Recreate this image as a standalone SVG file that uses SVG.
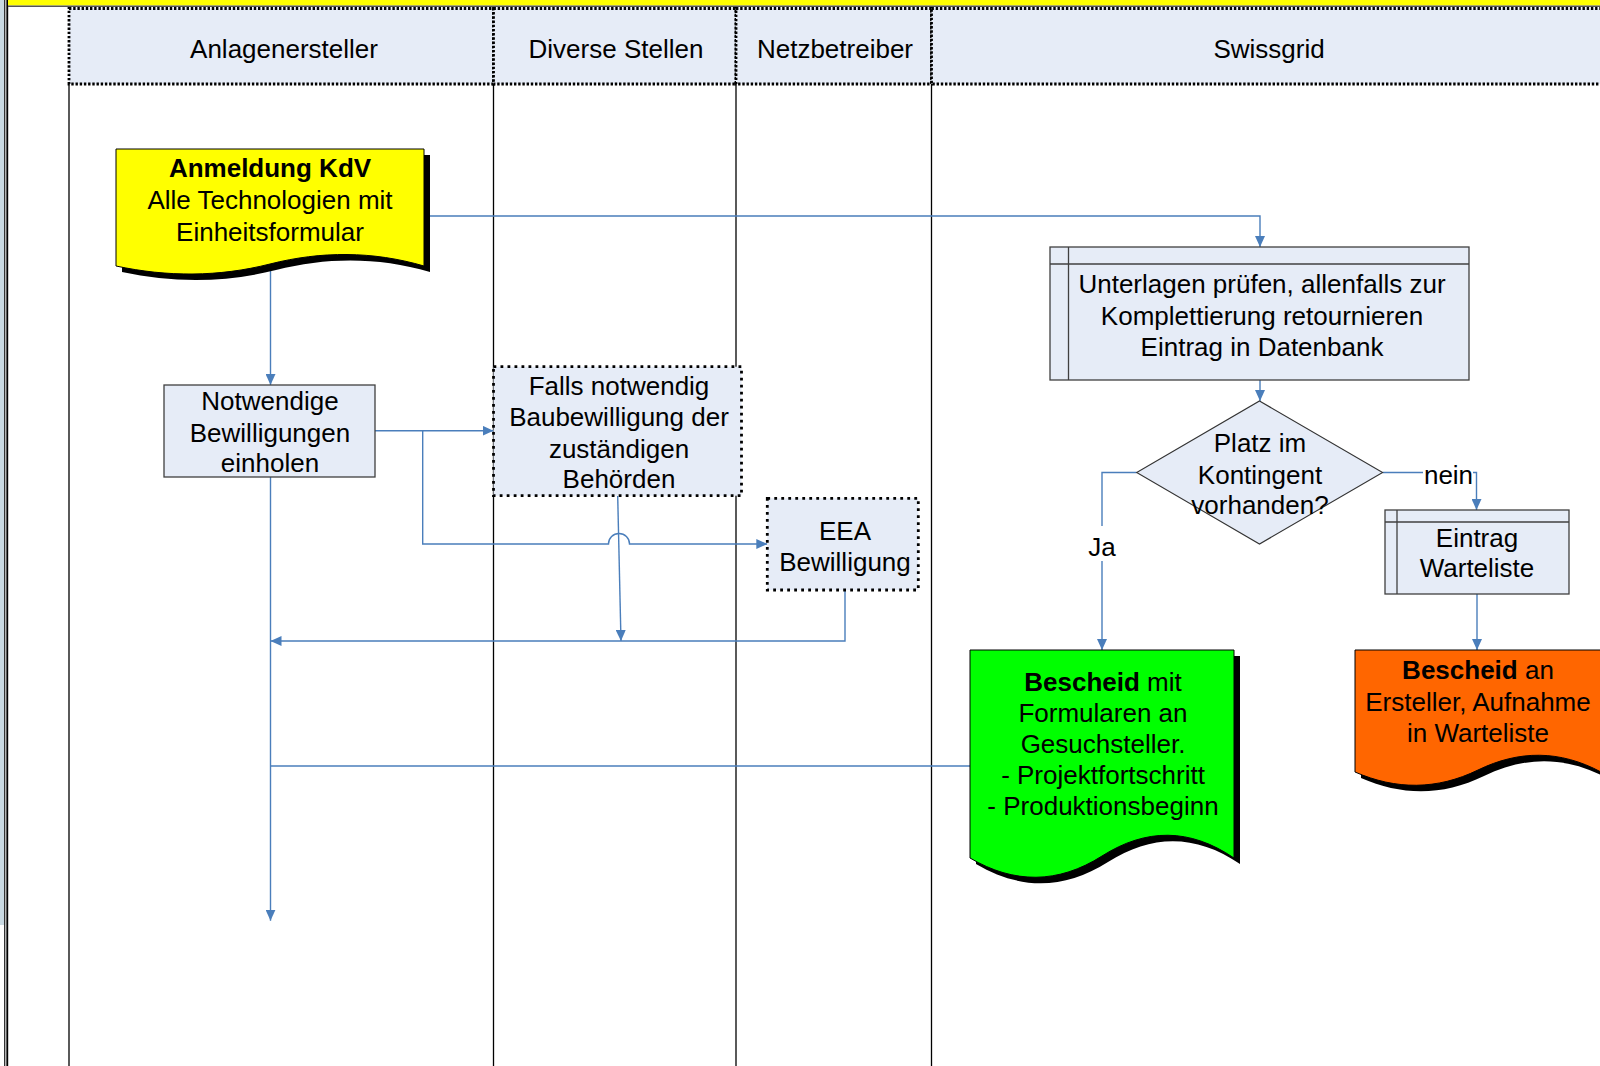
<svg xmlns="http://www.w3.org/2000/svg" width="1600" height="1066" viewBox="0 0 1600 1066">
<defs>
<style>
text{font-family:"Liberation Sans",Arial,sans-serif;font-size:26px;fill:#000;text-anchor:middle}
.b{font-weight:bold}
.hdr{fill:#e6ecf7;stroke:#000;stroke-width:2.8;stroke-dasharray:2.4 1.8}
.lane{stroke:#000;stroke-width:1.3;fill:none}
.box{fill:#e6ecf7;stroke:#404040;stroke-width:1.3}
.dot{fill:#e6ecf7;stroke:#000;stroke-width:2.8;stroke-dasharray:2.8 4.2}
.ln{stroke:#404040;stroke-width:1.3;fill:none}
.c{fill:none;stroke:#4a7ebb;stroke-width:1.4}
.ca{fill:none;stroke:#4a7ebb;stroke-width:1.4;marker-end:url(#arr)}
.doc{stroke:#000;stroke-width:1}
</style>
<marker id="arr" markerUnits="userSpaceOnUse" markerWidth="12" markerHeight="10" refX="11" refY="5" orient="auto">
<path d="M0,0 L11,5 L0,10 Z" fill="#4a7ebb"/>
</marker>
</defs>
<rect width="1600" height="1066" fill="#fff"/>
<g id="frame">
<rect x="0" y="0" width="4" height="925" fill="#c9d9e2"/>
<rect x="4" y="0" width="1.4" height="1066" fill="#333"/>
<rect x="5.4" y="0" width="1" height="1066" fill="#bbb"/>
<rect x="6.4" y="0" width="1.8" height="1066" fill="#000"/>
<rect x="8" y="0" width="1592" height="5.5" fill="#ffff00"/>
<rect x="8" y="5.5" width="1592" height="1.5" fill="#555"/>
</g>
<g id="lanes">
<line class="lane" x1="69" y1="84" x2="69" y2="1066"/>
<line class="lane" x1="493.5" y1="84" x2="493.5" y2="1066"/>
<line class="lane" x1="736" y1="84" x2="736" y2="1066"/>
<line class="lane" x1="931.5" y1="84" x2="931.5" y2="1066"/>
<g id="lane-anlagenersteller"><rect class="hdr" x="69" y="8.5" width="424.5" height="75.5"/><text x="284" y="58">Anlagenersteller</text></g>
<g id="lane-diverse"><rect class="hdr" x="493.5" y="8.5" width="242.5" height="75.5"/><text x="616" y="58">Diverse Stellen</text></g>
<g id="lane-netz"><rect class="hdr" x="736" y="8.5" width="195.5" height="75.5"/><text x="835" y="58">Netzbetreiber</text></g>
<g id="lane-swissgrid"><rect class="hdr" x="931.5" y="8.5" width="680" height="75.5"/><text x="1269" y="58">Swissgrid</text></g>
</g>
<g id="connectors">
<path class="ca" d="M424,216 H1260 V247"/>
<path class="ca" d="M270.5,267 V385"/>
<path class="ca" d="M375,430.7 H493.5"/>
<path class="ca" d="M422.7,430.7 V544 H608.5 A10.5,10.5 0 0 1 629.5,544 H767.3"/>
<path class="ca" d="M617.7,496 L621,641"/>
<path class="ca" d="M845,590 V641 H270.5"/>
<path class="ca" d="M270.5,477 V920.7"/>
<path class="c" d="M970,766 H270.5"/>
<path class="ca" d="M1260,380 V401"/>
<path class="ca" d="M1136.7,472.5 H1102 V650"/>
<path class="ca" d="M1382.6,472.5 H1476.5 V510"/>
<path class="ca" d="M1477,594 V650"/>
<rect x="1086" y="526" width="32" height="35" fill="#fff"/>
<text x="1102" y="556">Ja</text>
<rect x="1423" y="460" width="50" height="28" fill="#fff"/>
<text x="1448.5" y="483.5">nein</text>
</g>
<g id="anmeldung">
<path transform="translate(6,6)" fill="#000" d="M116,149 H424 V266 C372.67,251 321.33,251 270,264 C218.67,277 167.33,277 116,266 Z"/>
<path class="doc" fill="#ffff00" d="M116,149 H424 V266 C372.67,251 321.33,251 270,264 C218.67,277 167.33,277 116,266 Z"/>
<text x="270" y="177" class="b">Anmeldung KdV</text>
<text x="270" y="209">Alle Technologien mit</text>
<text x="270" y="241">Einheitsformular</text>
</g>
<g id="notwendige">
<rect class="box" x="164" y="385" width="211" height="92"/>
<text x="270" y="410">Notwendige</text>
<text x="270" y="441.5">Bewilligungen</text>
<text x="270" y="472">einholen</text>
</g>
<g id="falls">
<rect class="dot" x="493.5" y="366.7" width="248" height="129"/>
<text x="619" y="395">Falls notwendig</text>
<text x="619" y="426">Baubewilligung der</text>
<text x="619" y="458">zuständigen</text>
<text x="619" y="488">Behörden</text>
</g>
<g id="eea">
<rect class="dot" x="767.3" y="498.3" width="151" height="91.7"/>
<text x="845" y="540">EEA</text>
<text x="845" y="571">Bewilligung</text>
</g>
<g id="unterlagen">
<rect class="box" x="1050" y="247" width="419" height="133"/>
<line class="ln" x1="1050" y1="264" x2="1469" y2="264"/>
<line class="ln" x1="1068.5" y1="247" x2="1068.5" y2="380"/>
<text x="1262" y="293">Unterlagen prüfen, allenfalls zur</text>
<text x="1262" y="324.5">Komplettierung retournieren</text>
<text x="1262" y="356">Eintrag in Datenbank</text>
</g>
<g id="platz">
<path fill="#e6ecf7" stroke="#333" stroke-width="1.1" d="M1259.5,401 L1382.6,472.5 L1259.5,544 L1136.7,472.5 Z"/>
<text x="1260" y="452">Platz im</text>
<text x="1260" y="483.5">Kontingent</text>
<text x="1260" y="514">vorhanden?</text>
</g>
<g id="eintrag">
<rect class="box" x="1385" y="510" width="184" height="84"/>
<line class="ln" x1="1385" y1="522" x2="1569" y2="522"/>
<line class="ln" x1="1397" y1="510" x2="1397" y2="594"/>
<text x="1477" y="546.5">Eintrag</text>
<text x="1477" y="577">Warteliste</text>
</g>
<g id="bescheid-ja">
<path transform="translate(6,6)" fill="#000" d="M970,650 H1234 V858 C1190,828 1146,828 1102,856 C1058,884 1014,884 970,858 Z"/>
<path class="doc" fill="#00ff00" d="M970,650 H1234 V858 C1190,828 1146,828 1102,856 C1058,884 1014,884 970,858 Z"/>
<text x="1103" y="691"><tspan class="b">Bescheid</tspan> mit</text>
<text x="1103" y="722">Formularen an</text>
<text x="1103" y="753">Gesuchsteller.</text>
<text x="1103" y="784">- Projektfortschritt</text>
<text x="1103" y="815">- Produktionsbeginn</text>
</g>
<g id="bescheid-nein">
<path transform="translate(6,6)" fill="#000" d="M1355,650 H1601 V772 C1560,750 1519,750 1478,770 C1437,790 1396,790 1355,772 Z"/>
<path class="doc" fill="#ff6600" d="M1355,650 H1601 V772 C1560,750 1519,750 1478,770 C1437,790 1396,790 1355,772 Z"/>
<text x="1478" y="679"><tspan class="b">Bescheid</tspan> an</text>
<text x="1478" y="711">Ersteller, Aufnahme</text>
<text x="1478" y="742">in Warteliste</text>
</g>
</svg>
